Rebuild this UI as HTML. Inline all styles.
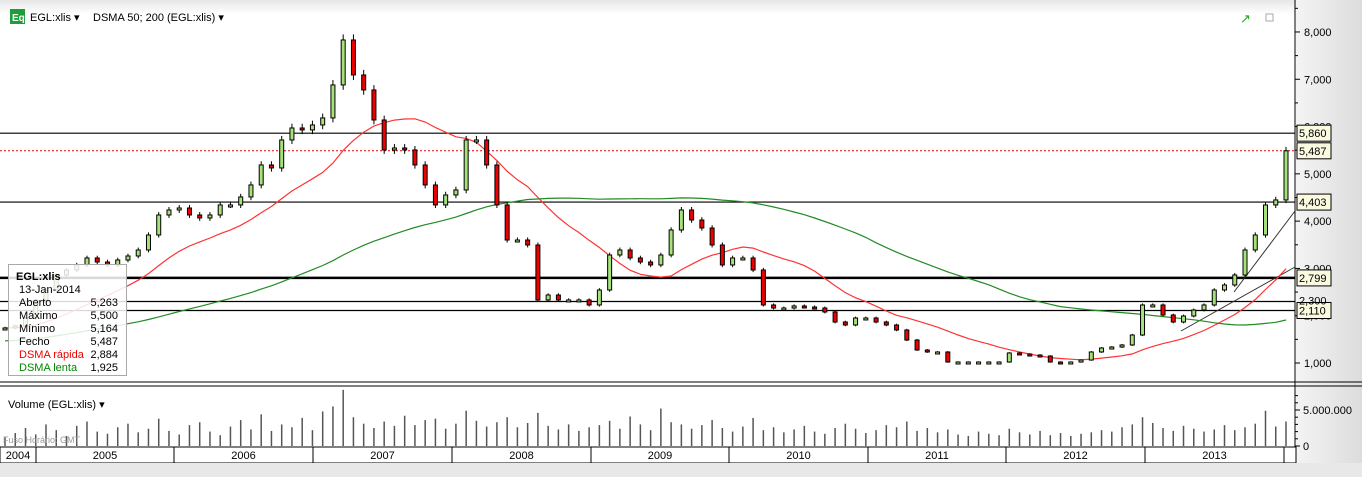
<!DOCTYPE html>
<html><head><meta charset="utf-8"><style>
body{margin:0;width:1362px;height:477px;overflow:hidden;background:#fff;font-family:"Liberation Sans",sans-serif;}
svg text{font-family:"Liberation Sans",sans-serif;}
</style></head><body>
<svg id="c" width="1362" height="477" xmlns="http://www.w3.org/2000/svg">
<defs>
<linearGradient id="tg" x1="0" y1="0" x2="0" y2="1"><stop offset="0" stop-color="#e6e6e6"/><stop offset="1" stop-color="#ffffff"/></linearGradient>
<linearGradient id="rg" x1="0" y1="0" x2="1" y2="0"><stop offset="0" stop-color="#f4f4f4"/><stop offset="1" stop-color="#dcdcdc"/></linearGradient>
</defs>
<rect x="0" y="0" width="1362" height="14" fill="url(#tg)"/>
<rect x="1296" y="0" width="66" height="463" fill="url(#rg)"/>
<g id="marks"></g>
<g id="overlay"></g>
</svg>
<script>
const priorCloses=[1150,1160,1170,1180,1190,1200,1205,1210,1220,1225,1230,1240,1250,1230,1260,1290,1310,1300,1330,1360,1380,1400,1420,1410,1440,1470,1500,1490,1520,1550,1570,1560,1590,1610,1640,1650,1670,1690,1700,1720,1730,1735,1740,1745,1750,1755,1760,1765,1770,1775];
const closes=[1740,1783,1952,2333,2544,2861,2967,3073,3221,3136,3073,3178,3263,3390,3707,4130,4236,4278,4130,4067,4130,4342,4342,4511,4765,5188,5124,5716,5970,5928,6034,6182,6880,7831,7091,6774,6139,5505,5547,5505,5188,4765,4342,4553,4659,5716,5716,5188,4342,3601,3601,3496,2333,2438,2333,2333,2333,2227,2544,3284,3390,3221,3136,3073,3284,3813,4236,4024,3855,3496,3073,3221,3221,2967,2227,2163,2163,2206,2184,2163,2079,1867,1804,1952,1952,1867,1804,1698,1486,1275,1233,1233,1021,1021,1021,1021,1021,1021,1212,1190,1169,1148,1021,1000,1021,1063,1233,1317,1338,1381,1592,2227,2227,2015,1867,1994,2121,2227,2544,2650,2861,3390,3707,4342,4448,5487];
const volumes=[1.2,1.8,2.5,1.6,3.0,2.2,1.4,2.8,3.4,2.0,1.7,2.6,3.1,1.9,2.4,3.8,2.1,1.6,2.9,3.3,2.0,1.5,2.7,3.6,2.3,4.4,2.1,3.0,2.6,3.9,2.2,4.8,5.5,7.8,4.0,3.1,2.5,3.4,2.8,4.2,2.9,3.6,3.8,2.4,3.1,4.9,3.5,2.7,3.3,4.0,2.6,3.2,4.6,2.8,2.3,3.0,2.1,2.6,2.9,3.5,2.4,4.1,3.0,2.2,5.2,3.3,3.0,2.4,2.9,3.6,2.5,2.0,2.7,3.9,2.2,2.6,1.9,2.3,2.8,2.0,1.7,2.5,3.1,2.4,1.8,2.2,2.9,2.6,3.4,2.1,2.5,1.9,2.3,1.6,1.4,2.0,1.7,1.5,2.4,1.9,1.6,2.1,1.5,1.8,1.4,1.7,1.9,2.2,2.0,2.6,3.0,4.0,3.2,2.5,2.1,2.8,2.4,2.0,2.3,2.9,2.2,2.6,3.1,4.9,2.7,3.4];
const priceTicks=[1000,2000,3000,4000,5000,6000,7000,8000];
const levelLines=[5860,4403,2799,2300,2110];
const years=["2004","2005","2006","2007","2008","2009","2010","2011","2012","2013"];
const yearBounds=[0,36,174,313,452,591,729,868,1006,1145,1284];

const NS="http://www.w3.org/2000/svg";
const X0=5,X1=1286,PR=1295;
function xAt(i){return X0+(X1-X0)*i/(closes.length-1);}
function yP(v){return 363-(v-1000)*0.04729;}
function yV(m){return 446-m*7.2;}
function el(t,a,p){const e=document.createElementNS(NS,t);for(const k in a)e.setAttribute(k,a[k]);(p||document.getElementById('marks')).appendChild(e);return e;}

priceTicks.forEach(v=>{const y=yP(v);
 el('line',{x1:PR,x2:PR+5,y1:y,y2:y,stroke:'#000'});
 el('line',{x1:PR,x2:PR+3,y1:yP(v+500),y2:yP(v+500),stroke:'#000'});
 const t=el('text',{x:1304,y:y+4,'font-size':11,fill:'#000'});t.textContent=v.toLocaleString('en-US');
 
 
});
el('line',{x1:PR,x2:PR,y1:0,y2:463,stroke:'#000'});

levelLines.forEach(v=>{const l=el('line',{x1:0,x2:PR,y1:yP(v),y2:yP(v),stroke:'#000','stroke-width':v===2799?2.5:1.2});
 
 
});
el('line',{x1:0,x2:PR,y1:yP(5487),y2:yP(5487),stroke:'#e00','stroke-dasharray':'2,2'});
el('line',{x1:1181,y1:331,x2:1295,y2:267,stroke:'#333'});
el('line',{x1:1234,y1:292,x2:1295,y2:211,stroke:'#333'});

const all=priorCloses.concat(closes),P=priorCloses.length;
function sma(n){return closes.map((c,i)=>{const j=i+P;const s=all.slice(Math.max(0,j-n+1),j+1);return s.reduce((a,b)=>a+b,0)/s.length;});}
const fast=sma(14),slow=sma(52);
function path(arr){return arr.map((v,i)=>(i?'L':'M')+xAt(i).toFixed(1)+','+yP(v).toFixed(1)).join('');}
const pf=el('path',{d:path(fast),fill:'none',stroke:'#f33','stroke-width':1.2});


const ps=el('path',{d:path(slow),fill:'none',stroke:'#228b22','stroke-width':1.2});



closes.forEach((c,i)=>{const o=i?closes[i-1]:c;const x=xAt(i);
 const hi=Math.max(o,c)*1.015,lo=Math.min(o,c)*0.985;
 el('line',{x1:x,x2:x,y1:yP(hi),y2:yP(lo),stroke:'#000'});
 const top=yP(Math.max(o,c)),h=Math.max(2,Math.abs(yP(o)-yP(c)));
 const r=el('rect',{x:x-2,y:top,width:4,height:h,fill:c>=o?'#a6e27a':'#e00',stroke:'#000','stroke-width':1});
 
 
});

volumes.forEach((v,i)=>{const b=el('line',{x1:xAt(i),x2:xAt(i),y1:446,y2:yV(v),stroke:'#555','stroke-width':1.5});
 
 
});
el('line',{x1:0,x2:1362,y1:382,y2:382,stroke:'#000'});
el('line',{x1:0,x2:1362,y1:386,y2:386,stroke:'#000'});
el('line',{x1:PR,x2:PR+5,y1:yV(5),y2:yV(5),stroke:'#000'});
el('line',{x1:PR,x2:PR+5,y1:446,y2:446,stroke:'#000'});
[1,2,3,4,6,7].forEach(m=>el('line',{x1:PR,x2:PR+3,y1:yV(m),y2:yV(m),stroke:'#000'}));
let t=el('text',{x:1303,y:yV(5)+4,'font-size':11});t.textContent='5.000.000';
t=el('text',{x:1303,y:450,'font-size':11});t.textContent='0';

el('rect',{x:0,y:447,width:1296,height:16,fill:'#fff',stroke:'#000'});
years.forEach((y,i)=>{const a=yearBounds[i],b=yearBounds[i+1];
 el('line',{x1:b,x2:b,y1:447,y2:463,stroke:'#000'});
 const tx=el('text',{x:(a+b)/2,y:459,'font-size':11,'text-anchor':'middle'});tx.textContent=y;
 
 
});
el('rect',{x:0,y:463,width:1362,height:14,fill:'#e8e8e8'});
</script>
<script>
(function(){const NS="http://www.w3.org/2000/svg";const O=document.getElementById('overlay');
function el(t,a){const e=document.createElementNS(NS,t);for(const k in a)e.setAttribute(k,a[k]);O.appendChild(e);return e;}
function yP(v){return 363-(v-1000)*0.04729;}
[5860,5487,4403,2799,2110].forEach(v=>{const y=yP(v);
 const r=el('rect',{x:1297,y:y-8,width:34,height:16,fill:'#fafae0',stroke:'#000'});
 
 
 const t=el('text',{x:1299,y:y+4,'font-size':11});t.textContent=v.toLocaleString('en-US');});
let t=el('text',{x:1299,y:yP(2300)+3,'font-size':11,fill:'#000'});t.textContent='2,300';
el('rect',{x:10,y:9,width:15,height:15,fill:'#1e9e3a'});
t=el('text',{x:12,y:21,'font-size':10,fill:'#fff','font-weight':'bold'});t.textContent='Eq';
t=el('text',{x:30,y:21,'font-size':11});t.textContent='EGL:xlis ▾';


t=el('text',{x:93,y:21,'font-size':11});t.textContent='DSMA 50; 200 (EGL:xlis) ▾';


t=el('text',{x:1240,y:23,'font-size':13,fill:'#2a2'});t.textContent='↗';
el('rect',{x:1266,y:14,width:7,height:7,fill:'none',stroke:'#aaa'});
t=el('text',{x:8,y:408,'font-size':11});t.textContent='Volume (EGL:xlis) ▾';


t=el('text',{x:3,y:443,'font-size':9,fill:'#999'});t.textContent='Fuso Horário: GMT';
const b=el('rect',{x:8.5,y:264.5,width:118,height:111,fill:'rgba(255,255,255,0.85)',stroke:'#aaa'});


const rows=[['EGL:xlis','','#000',true],['13-Jan-2014','','#000'],['Aberto','5,263','#000'],['Máximo','5,500','#000'],['Mínimo','5,164','#000'],['Fecho','5,487','#000'],['DSMA rápida','2,884','#e00'],['DSMA lenta','1,925','#080']];
rows.forEach((r,i)=>{const y=280+i*13;
 const a=el('text',{x:r[3]?16:19,y:y,'font-size':11,fill:r[2],'font-weight':r[3]?'bold':'normal'});a.textContent=r[0];
 if(r[1]){const v=el('text',{x:118,y:y,'font-size':11,'text-anchor':'end'});v.textContent=r[1];}
});
})();
</script>
</body></html>
